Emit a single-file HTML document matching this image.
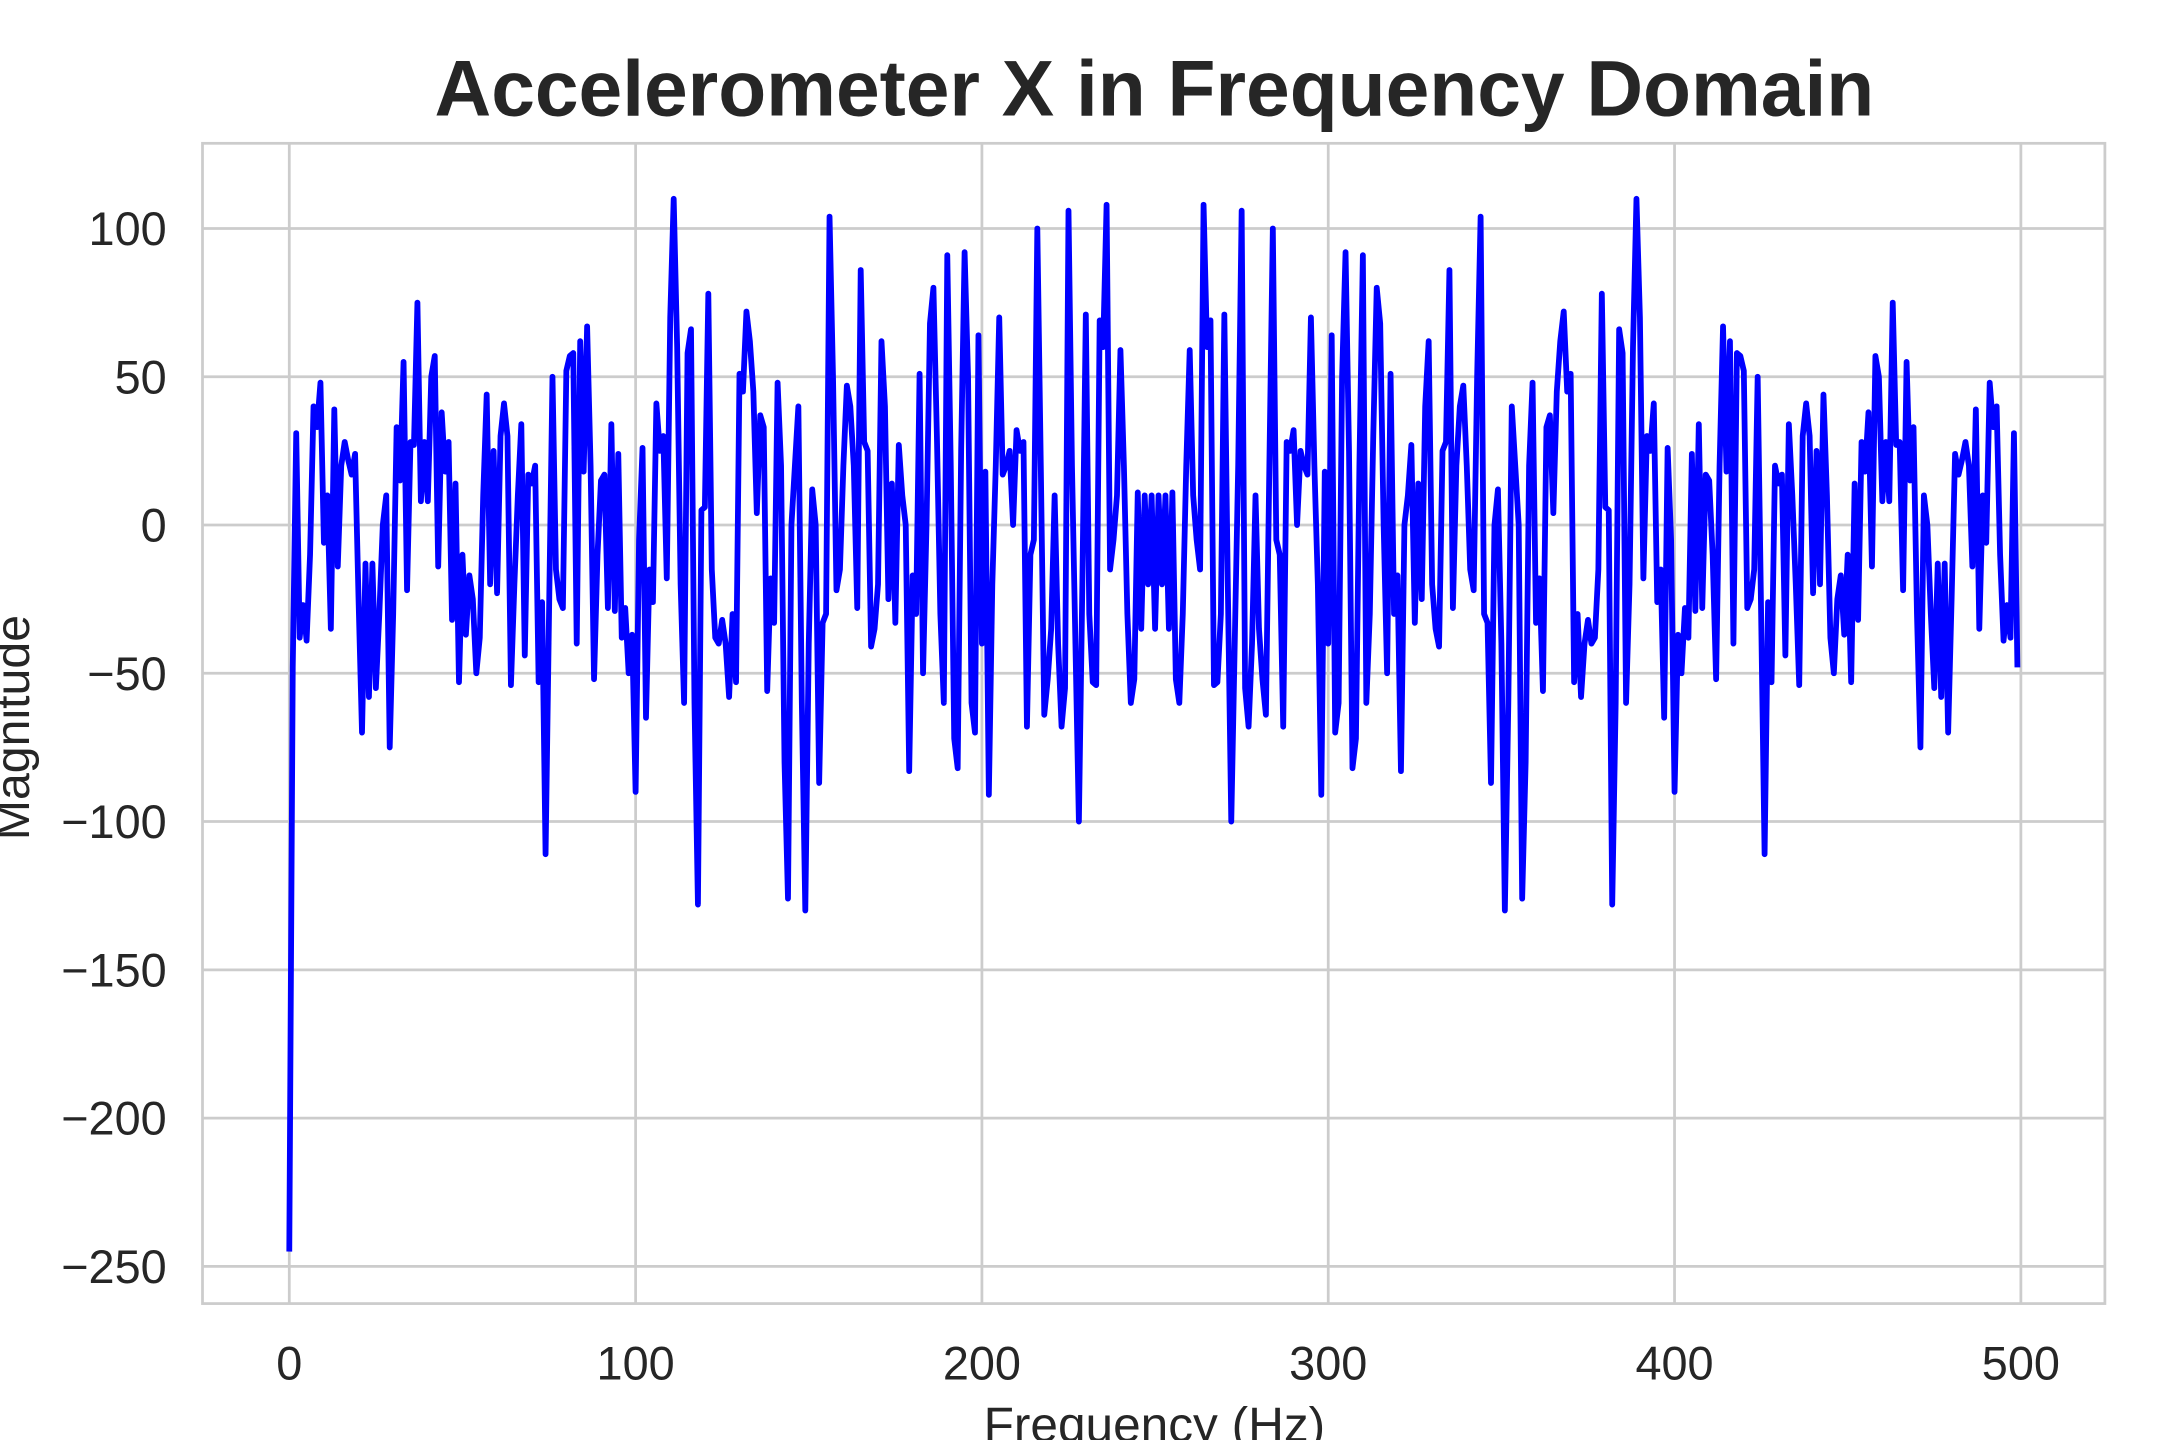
<!DOCTYPE html>
<html><head><meta charset="utf-8"><style>html,body{margin:0;padding:0;background:#fff;}svg{display:block;}</style></head>
<body>
<svg id="chart" width="2160" height="1440" viewBox="0 0 1568 1045" preserveAspectRatio="none" xmlns="http://www.w3.org/2000/svg" font-family="Liberation Sans, Arial, sans-serif">
<rect x="0" y="0" width="1568" height="1045" fill="#fff"/>
<text x="838" y="84" text-anchor="middle" font-size="57" font-weight="bold" fill="#262626">Accelerometer X in Frequency Domain</text>
<g id="grid"></g>
<rect x="147" y="104" width="1381" height="842" fill="none" stroke="#cccccc" stroke-width="2"/>
<g id="ticks"></g>
<path id="series" fill="none" stroke="#0000ff" stroke-width="4.2" stroke-linejoin="round"/>
<text x="838" y="1046" text-anchor="middle" font-size="36" fill="#262626">Frequency (Hz)</text>
<text transform="translate(21,528) rotate(-90)" text-anchor="middle" font-size="35" fill="#262626">Magnitude</text>
</svg>
<script>
const xTicks = [0, 100, 200, 300, 400, 500];
const yTicks = [100, 50, 0, -50, -100, -150, -200, -250];
const magnitude = [-245,-48,31,-38,-27,-39,-10,40,33,48,-6,10,-35,39,-14,20,28,22,17,24,-25,-70,-13,-58,-13,-55,-30,0,10,-75,-30,33,15,55,-22,28,27,75,8,28,8,50,57,-14,38,18,28,-32,14,-53,-10,-37,-17,-25,-50,-38,10,44,-20,25,-23,30,41,30,-54,-20,10,34,-44,17,14,20,-53,-26,-111,-30,50,-15,-25,-28,52,57,58,-40,62,18,67,20,-52,-10,15,17,-28,34,-29,24,-38,-28,-50,-37,-90,-5,26,-65,-15,-26,41,25,30,-18,70,110,60,-20,-60,58,66,-60,-128,5,6,78,-15,-38,-40,-32,-40,-58,-30,-53,51,45,72,62,45,4,37,33,-56,-18,-33,48,20,-80,-126,0,20,40,-60,-130,-40,12,0,-87,-33,-30,104,50,-22,-15,20,47,40,20,-28,86,28,25,-41,-35,-20,62,40,-25,14,-33,27,10,0,-83,-17,-30,51,-50,0,68,80,30,-30,-60,91,20,-72,-82,25,92,50,-60,-70,64,-40,18,-91,-20,20,70,17,20,25,0,32,25,28,-68,-10,-5,100,20,-64,-52,-35,10,-40,-68,-55,106,20,-40,-100,-20,71,-30,-53,-54,69,60,108,-15,-5,10,59,20,-30,-60,-52,11,-35,10,-20,10,-35,
10,-20,10,-35,11,-52,-60,-30,20,59,10,-5,-15,108,60,69,-54,-53,-30,71,-20,-100,-40,20,106,-55,-68,-40,10,-35,-52,-64,20,100,-5,-10,-68,28,25,32,0,25,20,17,70,20,-20,-91,18,-40,64,-70,-60,50,92,25,-82,-72,20,91,-60,-30,30,80,68,0,-50,51,-30,-17,-83,0,10,27,-33,14,-25,40,62,-20,-35,-41,25,28,86,-28,20,40,47,20,-15,-22,50,104,-30,-33,-87,0,12,-40,-130,-60,40,20,0,-126,-80,20,48,-33,-18,-56,33,37,4,45,62,72,45,51,-53,-30,-58,-40,-32,-40,-38,-15,78,6,5,-128,-60,66,58,-60,-20,60,110,70,-18,30,25,41,-26,-15,-65,26,-5,-90,-37,-50,-28,-38,24,-29,34,-28,17,15,-10,-52,20,67,18,62,-40,58,57,52,-28,-25,-15,50,-30,-111,-26,-53,20,14,17,-44,34,10,-20,-54,30,41,30,-23,25,-20,44,10,-38,-50,-25,-17,-37,-10,-53,14,-32,28,18,38,-14,57,50,8,28,8,75,27,28,-22,55,15,33,-30,-75,10,0,-30,-55,-13,-58,-13,-70,-25,24,17,22,28,20,-14,39,-35,10,-6,48,33,40,-10,-39,-27,-38,31,-48];

const X0 = 210, X1 = 1467, PLOT_L = 147, PLOT_R = 1528, PLOT_T = 104, PLOT_B = 946;
function xScale(v){ return X0 + (v - 0) * (X1 - X0) / 500; }
function yScale(v){ return 381 - v * (919 - 381) / 250; }
const NS = 'http://www.w3.org/2000/svg';
const grid = document.getElementById('grid');
const ticks = document.getElementById('ticks');
xTicks.forEach(function(t){
  const l = document.createElementNS(NS, 'line');
  
  
  l.setAttribute('x1', xScale(t)); l.setAttribute('x2', xScale(t));
  l.setAttribute('y1', PLOT_T); l.setAttribute('y2', PLOT_B);
  l.setAttribute('stroke', '#cccccc'); l.setAttribute('stroke-width', '2');
  grid.appendChild(l);
  const tx = document.createElementNS(NS, 'text');
  
  
  tx.setAttribute('x', xScale(t)); tx.setAttribute('y', 1001);
  tx.setAttribute('text-anchor', 'middle'); tx.setAttribute('font-size', '34'); tx.setAttribute('fill', '#262626');
  tx.textContent = String(t);
  ticks.appendChild(tx);
});
yTicks.forEach(function(t){
  const l = document.createElementNS(NS, 'line');
  
  
  l.setAttribute('x1', PLOT_L); l.setAttribute('x2', PLOT_R);
  l.setAttribute('y1', yScale(t)); l.setAttribute('y2', yScale(t));
  l.setAttribute('stroke', '#cccccc'); l.setAttribute('stroke-width', '2');
  grid.appendChild(l);
  const tx = document.createElementNS(NS, 'text');
  
  
  tx.setAttribute('x', 121); tx.setAttribute('y', yScale(t) + 12);
  tx.setAttribute('text-anchor', 'end'); tx.setAttribute('font-size', '34'); tx.setAttribute('fill', '#262626');
  tx.textContent = t < 0 ? '\u2212' + Math.abs(t) : String(t);
  ticks.appendChild(tx);
});
let d = '';
magnitude.forEach(function(v, i){
  d += (i === 0 ? 'M' : 'L') + xScale(i).toFixed(2) + ',' + yScale(v).toFixed(2);
});
document.getElementById('series').setAttribute('d', d);
</script>
</body></html>
